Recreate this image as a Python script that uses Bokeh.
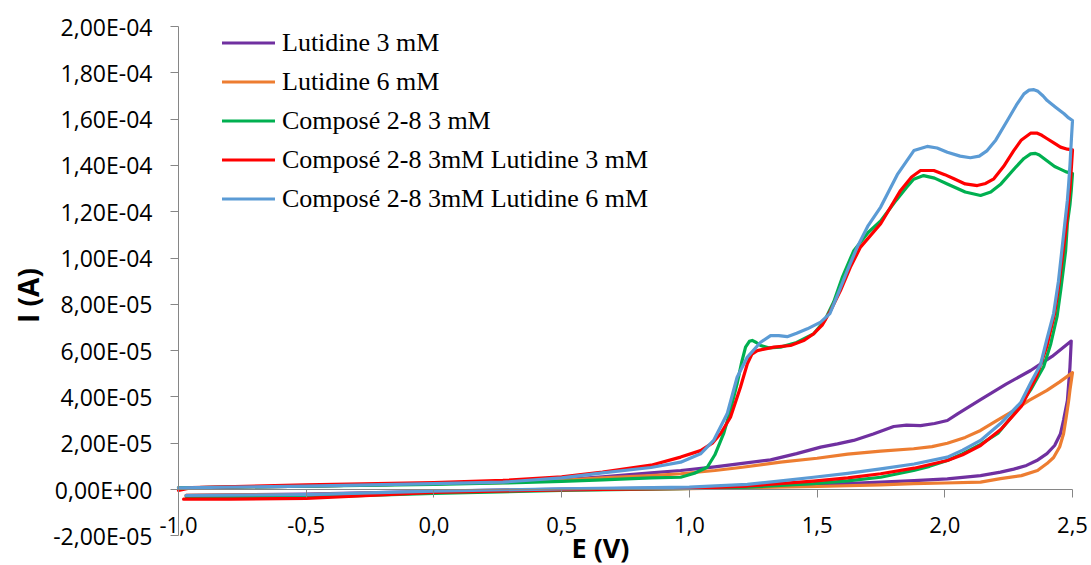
import math
from bokeh.plotting import figure
from bokeh.models import (Range1d, FixedTicker, LinearAxis, Label, Legend, LegendItem,
                          ColumnDataSource, CustomJSTickFormatter)
from bokeh.embed import file_html
from bokeh.resources import INLINE

# ---------------- data (E in V, I in units of 1e-5 A) ----------------
SERIES_NAMES = ["Lutidine 3 mM", "Lutidine 6 mM", "Composé 2-8 3 mM",
                "Composé 2-8 3mM Lutidine 3 mM", "Composé 2-8 3mM Lutidine 6 mM"]
SERIES_COLORS = ["#7030A0", "#ED7D31", "#00B050", "#FF0000", "#5B9BD5"]

lut3_E = [-1.0, -0.5, 0.0, 0.27, 0.5, 0.66, 0.85, 0.966, 1.1, 1.2, 1.318, 1.42, 1.514, 1.58, 1.643,
          1.72, 1.80, 1.85, 1.905, 1.96, 2.01, 2.05, 2.14, 2.24, 2.336, 2.42, 2.495,
          2.49, 2.48, 2.465, 2.453, 2.43, 2.40, 2.36, 2.32, 2.27, 2.218, 2.14, 2.01, 1.88, 1.749,
          1.5, 1.25, 1.0, 0.5, 0.0, -0.5, -0.97]
lut3_I = [0.07, 0.15, 0.25, 0.32, 0.42, 0.55, 0.72, 0.82, 0.98, 1.12, 1.28, 1.55, 1.83, 1.97, 2.12,
          2.4, 2.72, 2.78, 2.76, 2.85, 2.98, 3.27, 3.88, 4.55, 5.14, 5.75, 6.41,
          5.28, 3.84, 3.0, 2.41, 1.9, 1.55, 1.25, 1.04, 0.88, 0.75, 0.6, 0.46, 0.38, 0.32,
          0.2, 0.12, 0.07, 0.02, -0.08, -0.2, -0.25]

lut6_E = [-1.0, -0.5, 0.0, 0.27, 0.5, 0.66, 0.85, 0.966, 1.1, 1.2, 1.357, 1.5, 1.62, 1.749, 1.878,
          1.95, 2.01, 2.08, 2.14, 2.2, 2.27, 2.33, 2.40, 2.45, 2.50,
          2.49, 2.485, 2.475, 2.465, 2.45, 2.426, 2.40, 2.363, 2.3, 2.218, 2.14, 2.0, 1.878, 1.749,
          1.5, 1.25, 1.0, 0.5, 0.0, -0.5, -0.97]
lut6_I = [0.07, 0.15, 0.25, 0.3, 0.4, 0.5, 0.6, 0.68, 0.82, 0.95, 1.18, 1.35, 1.53, 1.66, 1.76,
          1.85, 2.0, 2.25, 2.55, 2.95, 3.41, 3.85, 4.28, 4.65, 5.05,
          4.3, 3.84, 3.1, 2.41, 1.85, 1.38, 1.12, 0.82, 0.6, 0.47, 0.32, 0.28, 0.25, 0.2,
          0.13, 0.08, 0.04, 0.0, -0.1, -0.22, -0.25]

c3_E = [-1.0, -0.5, 0.0, 0.27, 0.5, 0.66, 0.85, 0.966, 1.02, 1.07, 1.1, 1.134, 1.16, 1.187, 1.205,
        1.22, 1.235, 1.246, 1.262, 1.279, 1.31, 1.357, 1.42, 1.486, 1.53, 1.565, 1.6, 1.643, 1.7,
        1.749, 1.81, 1.85, 1.878, 1.917, 1.96, 2.01, 2.08, 2.14, 2.18, 2.22, 2.28, 2.31, 2.336,
        2.355, 2.37, 2.40, 2.43, 2.45, 2.475, 2.50,
        2.495, 2.49, 2.48, 2.473, 2.455, 2.44, 2.415, 2.387, 2.336, 2.27, 2.21, 2.14, 2.07, 2.01,
        1.94, 1.878, 1.749, 1.62, 1.486, 1.227, 0.966, 0.5, 0.0, -0.5, -0.97]
c3_I = [0.07, 0.15, 0.22, 0.28, 0.35, 0.42, 0.5, 0.53, 0.7, 0.96, 1.5, 2.41, 3.4, 4.57, 5.5,
        6.15, 6.4, 6.44, 6.35, 6.22, 6.12, 6.15, 6.35, 6.72, 7.3, 8.1, 9.2, 10.3, 11.1,
        11.6, 12.5, 13.05, 13.4, 13.56, 13.45, 13.2, 12.85, 12.7, 12.85, 13.2, 13.95, 14.3, 14.5,
        14.52, 14.45, 14.2, 13.95, 13.85, 13.72, 13.65,
        12.9, 12.3, 11.5, 10.3, 8.7, 7.5, 6.3, 5.3, 4.3, 3.25, 2.45, 1.95, 1.55, 1.25,
        1.0, 0.82, 0.53, 0.37, 0.25, 0.1, 0.04, -0.04, -0.17, -0.33, -0.3]

c3l3_E = [-1.0, -0.95, -0.5, 0.0, 0.27, 0.5, 0.66, 0.85, 0.966, 1.044, 1.09, 1.122, 1.161, 1.2,
          1.227, 1.245, 1.266, 1.331, 1.396, 1.45, 1.487, 1.52, 1.553, 1.592, 1.63, 1.67, 1.749,
          1.827, 1.87, 1.905, 1.957, 2.0, 2.036, 2.08, 2.127, 2.16, 2.192, 2.23, 2.27, 2.30, 2.336,
          2.36, 2.38, 2.401, 2.43, 2.453, 2.48, 2.50,
          2.495, 2.49, 2.475, 2.46, 2.445, 2.43, 2.40, 2.36, 2.30, 2.22, 2.14, 2.07, 2.01, 1.88,
          1.749, 1.62, 1.486, 1.227, 1.0, 0.5, 0.0, -0.5, -0.8, -0.98]
c3l3_I = [-0.04, 0.08, 0.2, 0.3, 0.39, 0.55, 0.75, 1.05, 1.40, 1.68, 2.0, 2.41, 3.12, 4.42,
          5.43, 5.85, 6.0, 6.15, 6.22, 6.45, 6.73, 7.1, 7.73, 8.6, 9.6, 10.47, 11.48,
          12.92, 13.5, 13.78, 13.78, 13.6, 13.42, 13.2, 13.13, 13.22, 13.42, 13.95, 14.64, 15.1, 15.39,
          15.4, 15.3, 15.15, 14.95, 14.79, 14.7, 14.67,
          13.8, 13.0, 11.3, 10.0, 8.7, 7.6, 6.2, 4.9, 3.6, 2.6, 1.9, 1.5, 1.25, 0.92,
          0.68, 0.5, 0.36, 0.15, 0.05, -0.02, -0.12, -0.38, -0.42, -0.42]

c3l6_E = [-1.0, -0.5, 0.0, 0.27, 0.5, 0.66, 0.85, 0.966, 1.044, 1.095, 1.148, 1.187, 1.227, 1.279,
          1.318, 1.35, 1.383, 1.42, 1.462, 1.514, 1.55, 1.58, 1.62, 1.657, 1.70, 1.749, 1.814, 1.879,
          1.931, 1.97, 2.01, 2.06, 2.10, 2.135, 2.166, 2.2, 2.245, 2.28, 2.31, 2.33, 2.349, 2.365,
          2.385, 2.401, 2.435, 2.467, 2.485, 2.50,
          2.495, 2.49, 2.485, 2.48, 2.47, 2.46, 2.445, 2.426, 2.40, 2.375, 2.336, 2.297, 2.218,
          2.14, 2.07, 2.01, 1.88, 1.749, 1.62, 1.486, 1.35, 1.227, 1.0, 0.5, 0.0, -0.5, -0.97]
c3l6_I = [0.07, 0.15, 0.25, 0.32, 0.5, 0.72, 0.95, 1.18, 1.54, 2.12, 3.27, 4.85, 5.72, 6.36,
          6.65, 6.65, 6.6, 6.75, 6.94, 7.23, 7.6, 8.4, 9.5, 10.47, 11.4, 12.2, 13.6, 14.64,
          14.82, 14.75, 14.57, 14.4, 14.33, 14.4, 14.64, 15.1, 15.94, 16.6, 17.09, 17.25, 17.27, 17.2,
          17.0, 16.8, 16.5, 16.23, 16.05, 15.94,
          15.0, 14.0, 13.2, 12.5, 11.5, 10.5, 9.0, 7.6, 6.5, 5.4, 4.6, 3.75, 2.85,
          2.12, 1.7, 1.40, 1.1, 0.89, 0.7, 0.53, 0.36, 0.22, 0.1, 0.03, -0.07, -0.22, -0.26]

SERIES_E = [lut3_E, lut6_E, c3_E, c3l3_E, c3l6_E]
SERIES_I = [lut3_I, lut6_I, c3_I, c3l3_I, c3l6_I]

X_TICKS = [-1.0, -0.5, 0.0, 0.5, 1.0, 1.5, 2.0, 2.5]
X_TICK_LABELS = ["-1,0", "-0,5", "0,0", "0,5", "1,0", "1,5", "2,0", "2,5"]
Y_TICKS = [-2, 0, 2, 4, 6, 8, 10, 12, 14, 16, 18, 20]
Y_TICK_LABELS = ["-2,00E-05", "0,00E+00", "2,00E-05", "4,00E-05", "6,00E-05", "8,00E-05",
                 "1,00E-04", "1,20E-04", "1,40E-04", "1,60E-04", "1,80E-04", "2,00E-04"]
X_TITLE = "E (V)"
Y_TITLE = "I (A)"

# ---------------- layout (pixel geometry of the plotting area) ----------------
W, H = 1091, 565
X0_PX, X1_PX = 178.0, 1072.0      # pixel x of E=-1.0 and E=2.5
Y0_PX, Y1_PX = 489.0, 26.0        # pixel y of I=0 and I=20
XMIN, XMAX = -1.0, 2.5
YMIN, YMAX = -2, 20
sx = (X1_PX - X0_PX) / (XMAX - XMIN)
sy = (Y0_PX - Y1_PX) / (YMAX - 0)
x_lo = XMIN - X0_PX / sx
x_hi = XMIN + (W - X0_PX) / sx
y_hi = Y0_PX / sy
y_lo = -(H - Y0_PX) / sy

def px_to_x(px):
    return XMIN + (px - X0_PX) / sx

def px_to_y(py):
    return (Y0_PX - py) / sy

p = figure(width=W, height=H, output_backend="svg", toolbar_location=None,
           x_range=Range1d(x_lo, x_hi), y_range=Range1d(y_lo, y_hi),
           x_axis_location=None, y_axis_location=None,
           min_border_left=0, min_border_right=0, min_border_top=0, min_border_bottom=0)
p.outline_line_color = None
p.background_fill_color = "white"
p.border_fill_color = "white"
for g in p.grid:
    g.visible = False

AXIS_COLOR = "#868686"
TICK_FONT = "Open Sans"

def make_formatter(tvals, tlabels):
    return CustomJSTickFormatter(args=dict(tvals=tvals, tlabels=tlabels), code="""
        for (let i = 0; i < tvals.length; i++) {
            if (Math.abs(tvals[i] - tick) < 1e-9) return tlabels[i];
        }
        return "";
    """)

yaxis = LinearAxis(ticker=FixedTicker(ticks=Y_TICKS), formatter=make_formatter(Y_TICKS, Y_TICK_LABELS),
                   fixed_location=XMIN, bounds=(YMIN, YMAX))
yaxis.axis_line_color = AXIS_COLOR
yaxis.major_tick_line_color = AXIS_COLOR
yaxis.minor_tick_line_color = None
yaxis.major_tick_in = 0
yaxis.major_tick_out = 8
yaxis.major_label_standoff = 18
yaxis.major_label_text_font = TICK_FONT
yaxis.major_label_text_font_size = "23px"
yaxis.major_label_text_color = "black"
p.add_layout(yaxis, "left")

xaxis = LinearAxis(ticker=FixedTicker(ticks=X_TICKS), formatter=make_formatter(X_TICKS, X_TICK_LABELS),
                   fixed_location=0, bounds=(XMIN, XMAX))
xaxis.axis_line_color = AXIS_COLOR
xaxis.major_tick_line_color = AXIS_COLOR
xaxis.minor_tick_line_color = None
xaxis.major_tick_in = 0
xaxis.major_tick_out = 8
xaxis.major_label_standoff = 19
xaxis.major_label_text_font = TICK_FONT
xaxis.major_label_text_font_size = "22px"
xaxis.major_label_text_color = "black"
p.add_layout(xaxis, "below")

items = []
for name, color, E, I in zip(SERIES_NAMES, SERIES_COLORS, SERIES_E, SERIES_I):
    src = ColumnDataSource(data=dict(E=E, I=I))
    r = p.line("E", "I", source=src, line_color=color, line_width=3.2, line_join="round", line_cap="round")
    items.append(LegendItem(label=name, renderers=[r]))

legend = Legend(items=items, location=(222, 347), glyph_width=53, glyph_height=39, label_height=39,
                spacing=0, padding=0, margin=0, label_standoff=7,
                border_line_color=None, background_fill_alpha=0,
                label_text_font="Liberation Serif", label_text_font_size="26px",
                label_text_color="black")
p.add_layout(legend)

p.add_layout(Label(x=px_to_x(600), y=px_to_y(547), text=X_TITLE, text_align="center",
                   text_baseline="middle", text_font="Open Sans", text_font_style="bold",
                   text_font_size="27px", text_color="black"))
p.add_layout(Label(x=px_to_x(27), y=px_to_y(295), text=Y_TITLE, angle=math.pi / 2, text_align="center",
                   text_baseline="middle", text_font="Open Sans", text_font_style="bold",
                   text_font_size="28px", text_color="black"))

open("out.html", "w").write(file_html(p, INLINE))
